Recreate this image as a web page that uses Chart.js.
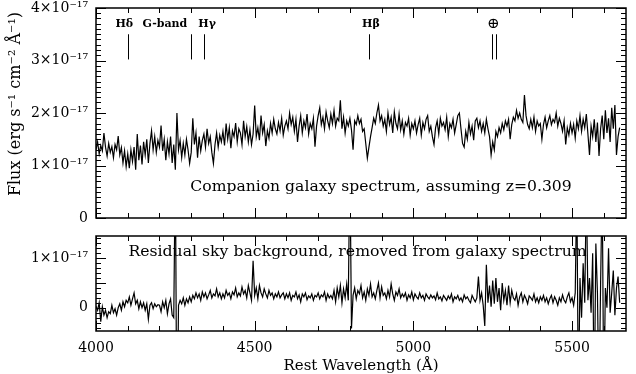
<!DOCTYPE html>
<html><head><meta charset="utf-8">
<script src="https://cdn.jsdelivr.net/npm/chart.js@4.4.1/dist/chart.umd.min.js"></script>
<style>
html,body{margin:0;padding:0;background:#fff;}
#wrap{position:relative;width:636px;height:374px;overflow:hidden;}
#c1{position:absolute;left:0;top:0;}
#c2{position:absolute;left:0;top:228px;}
</style></head><body>
<div id="wrap"><canvas id="c1" width="636" height="228"></canvas><canvas id="c2" width="636" height="146"></canvas></div>
<script>
// ---- data (flux in units of 1e-17 erg s^-1 cm^-2 A^-1), sampled every 5 A from 4000 A ----
const lamStart = 4000, lamStep = 5;
const flux = [
1.30,1.45,1.22,1.38,1.28,1.62,1.35,1.18,1.42,1.25,1.36,1.15,1.40,1.30,1.56,1.20,1.34,1.05,1.28,0.98,
1.22,0.95,1.30,1.08,1.35,0.92,1.60,1.10,1.38,1.02,1.45,1.20,1.50,1.05,1.42,1.66,1.30,1.55,1.25,1.48,
1.35,1.76,1.28,1.50,1.10,1.45,1.22,1.55,1.05,1.40,0.92,2.00,1.30,1.48,1.15,1.42,1.20,1.50,1.30,1.04,
1.25,1.90,1.40,1.62,1.15,1.55,1.28,1.48,1.60,1.35,1.70,1.42,1.55,1.25,1.04,1.40,1.62,1.35,1.58,1.45,
1.65,1.38,1.80,1.50,1.72,1.33,1.66,1.55,1.81,1.45,1.70,1.62,1.40,1.85,1.55,1.74,1.45,1.68,1.40,1.60,
2.14,1.55,1.72,1.48,1.95,1.62,1.78,1.37,1.66,1.52,1.80,1.62,1.88,1.70,1.60,1.82,1.66,1.90,1.58,1.75,
1.85,1.70,2.00,1.78,1.92,1.65,1.88,1.45,1.75,1.95,1.62,1.85,1.72,1.98,1.60,1.80,1.70,1.90,1.36,1.75,
1.95,2.10,1.78,1.92,1.70,2.02,1.85,1.72,1.98,1.80,2.05,1.75,1.90,1.85,2.24,1.70,1.92,1.62,1.85,1.75,
1.90,1.68,1.30,1.85,1.78,1.95,1.80,1.88,1.65,1.70,1.42,1.14,1.35,1.55,1.72,1.90,1.80,2.00,2.15,1.85,
1.95,1.75,1.88,1.65,2.00,1.78,1.92,1.62,2.02,1.80,1.70,1.98,1.68,1.85,1.60,1.82,1.75,1.90,1.58,1.80,
1.70,1.85,1.62,1.78,1.90,1.58,1.82,1.70,1.88,1.95,1.65,1.75,1.55,1.40,1.72,1.85,1.60,1.90,1.75,1.82,
1.68,1.92,1.55,1.80,1.72,1.88,1.62,1.78,1.95,2.00,1.70,1.42,1.35,1.65,1.50,1.82,1.60,1.75,1.48,1.85,
1.90,1.72,1.85,1.65,1.80,1.62,1.88,1.70,1.55,1.20,1.45,1.30,1.65,1.55,1.72,1.62,1.80,1.68,1.85,1.75,
1.88,1.50,1.78,1.92,1.85,2.05,1.90,2.00,1.88,1.82,2.34,1.95,1.78,1.70,1.88,1.72,1.92,1.65,1.85,1.75,
1.80,1.50,1.78,1.92,1.72,1.85,1.95,1.78,1.88,1.82,2.00,1.75,1.90,1.80,1.65,1.85,1.40,1.72,1.58,1.80,
1.62,1.78,1.52,1.85,1.70,1.95,1.65,1.88,1.72,1.98,1.60,1.20,1.75,1.55,1.88,1.45,1.82,1.18,1.70,1.95,
1.50,2.05,1.62,1.90,1.45,2.10,1.70,2.15,1.20,1.55,1.72];
const resid = [
0.03,-0.05,0.10,-0.28,0.02,-0.15,-0.05,-0.20,-0.08,-0.12,0.05,-0.10,-0.02,-0.15,0.00,0.08,-0.05,0.12,0.02,0.15,
0.10,0.22,0.05,0.18,0.30,0.08,0.15,-0.02,0.12,0.00,0.10,-0.05,0.08,-0.23,0.05,0.10,-0.02,0.08,0.02,0.06,
0.05,-0.08,0.12,0.00,0.15,-0.12,0.08,0.18,-0.15,-0.20,3.00,-3.00,0.05,0.15,0.08,0.20,0.05,0.18,0.10,0.22,
0.12,0.25,0.18,0.30,0.20,0.28,0.15,0.32,0.22,0.30,0.18,0.26,0.35,0.20,0.28,0.24,0.38,0.22,0.30,0.18,
0.28,0.20,0.35,0.25,0.30,0.18,0.32,0.26,0.40,0.22,0.30,0.24,0.42,0.28,0.35,0.20,0.45,0.30,0.15,0.95,
0.25,0.40,0.18,0.45,0.30,0.22,0.38,0.28,0.20,0.35,0.25,0.30,0.18,0.28,0.22,0.32,0.20,0.26,0.30,0.18,
0.28,0.20,0.30,0.15,0.25,0.22,0.32,0.18,0.26,0.12,0.28,0.22,0.30,0.16,0.24,0.20,0.28,0.15,0.25,0.22,
0.30,0.18,0.26,0.22,0.32,0.15,0.28,0.20,0.25,0.18,0.35,0.12,0.40,0.22,0.45,0.10,0.38,0.20,0.48,0.15,
3.00,-0.42,0.25,0.40,0.18,0.35,0.28,0.45,0.20,0.32,0.15,0.38,0.25,0.48,0.22,0.30,0.18,0.35,0.50,0.20,
0.42,0.25,0.30,0.18,0.35,0.22,0.48,0.28,0.15,0.32,0.25,0.38,0.20,0.28,0.22,0.30,0.15,0.26,0.20,0.32,
0.16,0.28,0.22,0.18,0.30,0.20,0.25,0.15,0.28,0.22,0.18,0.26,0.20,0.24,0.16,0.30,0.18,0.22,0.14,0.25,
0.20,0.15,0.24,0.18,0.28,0.12,0.22,0.18,0.25,0.15,0.20,0.12,0.26,0.18,0.22,0.15,0.10,0.25,0.18,0.12,
0.20,0.63,0.15,0.30,0.05,-0.37,0.87,0.10,0.45,0.02,0.55,0.08,0.60,0.12,0.40,-0.05,0.50,0.15,0.35,0.05,
0.45,0.10,0.35,0.20,0.15,0.28,0.05,0.22,0.30,0.12,0.25,0.18,0.08,0.24,0.20,0.15,0.28,0.12,0.20,0.10,
0.22,0.15,0.25,0.12,0.20,0.08,0.18,0.25,0.10,0.22,0.15,0.05,0.20,0.12,0.26,0.15,0.10,0.22,0.30,0.12,
0.20,0.05,0.30,2.50,-2.00,0.60,-0.20,0.90,0.10,2.50,0.15,0.60,-0.10,1.10,-2.00,1.30,0.30,-2.00,0.50,2.50,
-2.00,0.40,0.00,1.20,-0.10,0.30,0.75,-0.15,0.40,0.63,0.10];
const xTickValues = [4000, 4500, 5000, 5500];
const xTickLabels = ['4000', '4500', '5000', '5500'];
const topYTickLabels = ['0', '1×10⁻¹⁷', '2×10⁻¹⁷', '3×10⁻¹⁷', '4×10⁻¹⁷'];
const botYTickLabels = ['0', '1×10⁻¹⁷'];
const lineWaves = [4101, 4300, 4340, 4861, 5247, 5260];
const lineLabels = ['Hδ', 'G-band', 'Hγ', 'Hβ', '⊕'];
const lineLabelWaves = [4089, 4217, 4350, 4866, 5252];
const topNote = 'Companion galaxy spectrum, assuming z=0.309';
const botNote = 'Residual sky background, removed from galaxy spectrum';
const yTitle = 'Flux (erg s⁻¹ cm⁻² Å⁻¹)';
const xTitle = 'Rest Wavelength (Å)';

const SERIF = '"DejaVu Serif", serif';
const toXY = arr => arr.map((v, i) => ({x: lamStart + i * lamStep, y: v}));

const boxTicks = {
  id: 'boxTicks',
  afterDatasetsDraw(chart, args, o) {
    const {ctx, chartArea: a} = chart;
    const xs = chart.scales.x, ys = chart.scales.y;
    ctx.save();
    ctx.strokeStyle = '#000';
    ctx.lineWidth = 1;
    ctx.beginPath();
    const tick = (v, major, isX) => {
      const len = major ? 10 : 5;
      if (isX) {
        const p = Math.round(xs.getPixelForValue(v)) + 0.5;
        ctx.moveTo(p, a.bottom); ctx.lineTo(p, a.bottom - len);
        ctx.moveTo(p, a.top); ctx.lineTo(p, a.top + len);
      } else {
        const p = Math.round(ys.getPixelForValue(v)) + 0.5;
        ctx.moveTo(a.left, p); ctx.lineTo(a.left + len, p);
        ctx.moveTo(a.right, p); ctx.lineTo(a.right - len, p);
      }
    };
    for (let k = Math.ceil(xs.min / 100); k * 100 <= xs.max; k++) tick(k * 100, k % 5 === 0, true);
    for (let k = Math.ceil(ys.min / o.yMinor - 1e-6); k * o.yMinor <= ys.max + 1e-6; k++) tick(k * o.yMinor, k % o.yMajorEvery === 0, false);
    ctx.stroke();
    ctx.lineWidth = 1.5;
    ctx.strokeRect(a.left, a.top, a.right - a.left, a.bottom - a.top);
    ctx.restore();
  }
};

const topText = {
  id: 'topText',
  afterDraw(chart) {
    const {ctx} = chart;
    const xs = chart.scales.x, ys = chart.scales.y;
    ctx.save();
    ctx.strokeStyle = '#000'; ctx.fillStyle = '#000'; ctx.lineWidth = 1;
    ctx.beginPath();
    lineWaves.forEach(w => {
      const p = Math.round(xs.getPixelForValue(w)) + 0.5;
      ctx.moveTo(p, ys.getPixelForValue(3.5)); ctx.lineTo(p, ys.getPixelForValue(3.02));
    });
    ctx.stroke();
    ctx.textAlign = 'center'; ctx.textBaseline = 'middle';
    lineLabels.forEach((t, i) => {
      ctx.font = (t === '⊕' ? '15px ' : 'bold 11px ') + SERIF;
      ctx.fillText(t, xs.getPixelForValue(lineLabelWaves[i]), ys.getPixelForValue(3.7));
    });
    ctx.font = '15.6px ' + SERIF;
    ctx.fillText(topNote, xs.getPixelForValue(4898), ys.getPixelForValue(0.59));
    ctx.font = '16px ' + SERIF;
    ctx.translate(16, 104);
    ctx.rotate(-Math.PI / 2);
    ctx.fillText(yTitle, 0, 0);
    ctx.restore();
  }
};

const botText = {
  id: 'botText',
  afterDraw(chart) {
    const {ctx, chartArea: a} = chart;
    const xs = chart.scales.x, ys = chart.scales.y;
    ctx.save();
    ctx.fillStyle = '#000';
    ctx.textAlign = 'center'; ctx.textBaseline = 'middle';
    ctx.font = '15.7px ' + SERIF;
    ctx.fillText(botNote, xs.getPixelForValue(4824), ys.getPixelForValue(1.13));
    ctx.font = '15px ' + SERIF;
    ctx.fillText(xTitle, (a.left + a.right) / 2, 138);
    ctx.restore();
  }
};

const lineDs = arr => ({data: toXY(arr), borderColor: '#000', borderWidth: 1.2, pointRadius: 0, tension: 0, fill: false, clip: 0});
const yScale = (min, max, step, labels) => ({
  type: 'linear', min, max,
  grid: {display: false, drawTicks: false}, border: {display: false},
  afterFit: s => { s.width = 96; s.paddingTop = 0; s.paddingBottom = 0; },
  ticks: {stepSize: step, includeBounds: false, padding: 8, color: '#000', font: {family: SERIF, size: 14},
          callback: v => (Math.abs(v - Math.round(v)) < 1e-6 && labels[Math.round(v)] !== undefined) ? labels[Math.round(v)] : ''}
});

new Chart(document.getElementById('c1'), {
  type: 'line',
  data: {datasets: [lineDs(flux)]},
  options: {
    responsive: false, animation: false, events: [],
    layout: {padding: {top: 8, right: 10, bottom: 10, left: 0}},
    plugins: {legend: {display: false}, tooltip: {enabled: false}, boxTicks: {yMinor: 0.1, yMajorEvery: 10}},
    scales: {
      x: {type: 'linear', min: 4000, max: 5670, display: false},
      y: yScale(0, 4, 1, topYTickLabels)
    }
  },
  plugins: [boxTicks, topText]
});

new Chart(document.getElementById('c2'), {
  type: 'line',
  data: {datasets: [lineDs(resid)]},
  options: {
    responsive: false, animation: false, events: [],
    layout: {padding: {top: 8, right: 10, bottom: 0, left: 0}},
    plugins: {legend: {display: false}, tooltip: {enabled: false}, boxTicks: {yMinor: 0.1, yMajorEvery: 5}},
    scales: {
      x: {type: 'linear', min: 4000, max: 5670,
          grid: {display: false, drawTicks: false}, border: {display: false},
          afterFit: s => { s.height = 43; s.paddingLeft = 0; s.paddingRight = 0; },
          afterBuildTicks: s => { s.ticks = xTickValues.map(v => ({value: v})); },
          ticks: {padding: 9, maxRotation: 0, autoSkip: false, color: '#000', font: {family: SERIF, size: 14},
                  callback: v => { const i = xTickValues.indexOf(v); return i >= 0 ? xTickLabels[i] : ''; }}},
      y: yScale(-0.47, 1.45, 0.5, botYTickLabels)
    }
  },
  plugins: [boxTicks, botText]
});
</script>
</body></html>
